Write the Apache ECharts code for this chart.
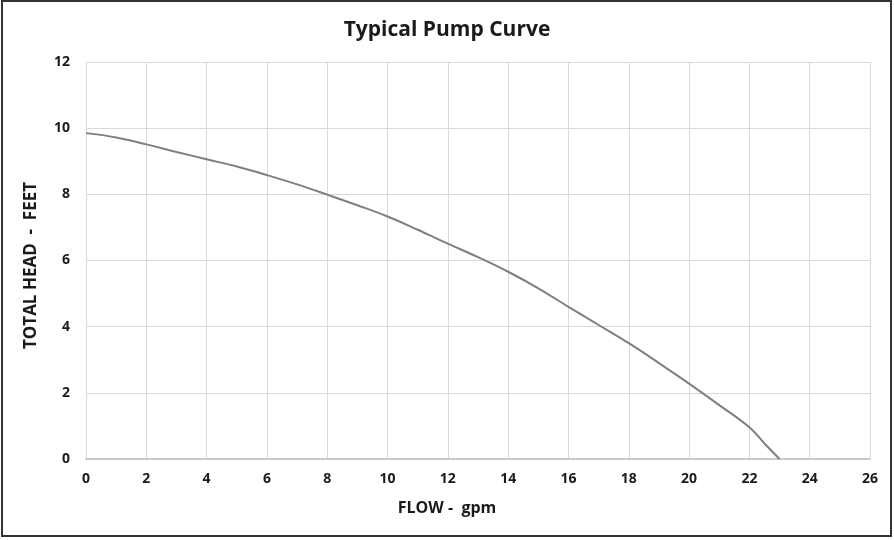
<!DOCTYPE html>
<html>
<head>
<meta charset="utf-8">
<script src="https://cdn.jsdelivr.net/npm/echarts@6/dist/echarts.min.js"></script>
<style>
  html, body { margin: 0; padding: 0; background: #fff; }
  #main { width: 894px; height: 540px; }
</style>
</head>
<body>
<div id="main"></div>
<script>
var flow = [0, 1, 2, 3, 4, 5, 6, 7, 8, 9, 10, 11, 12, 13, 14, 15, 16, 17, 18, 19, 20, 21, 22, 22.5, 23];
var head = [9.85, 9.72, 9.51, 9.28, 9.06, 8.84, 8.58, 8.3, 7.99, 7.67, 7.33, 6.93, 6.51, 6.1, 5.66, 5.16, 4.6, 4.05, 3.5, 2.9, 2.28, 1.63, 0.96, 0.47, 0];

var curve = [];
for (var i = 0; i < flow.length; i++) {
    curve.push([flow[i], head[i]]);
}

var myChart = echarts.init(document.getElementById('main'));
var labelFont = '"Open Sans", Lato, sans-serif';

var option = {
    animation: false,
    backgroundColor: '#fff',
    title: {
        text: 'Typical Pump Curve',
        left: 'center',
        top: 15,
        textStyle: { fontFamily: labelFont, fontSize: 21, fontWeight: 'bold', color: '#1a1a1a' }
    },
    graphic: [{
        type: 'rect',
        shape: { x: 2, y: 1, width: 889, height: 535 },
        style: { fill: 'none', stroke: '#333', lineWidth: 2 },
        silent: true
    }],
    grid: { left: 86, right: 24, top: 62, bottom: 81 },
    xAxis: {
        type: 'value',
        min: 0,
        max: 26,
        interval: 2,
        name: 'FLOW -  gpm',
        nameLocation: 'middle',
        nameGap: 41,
        nameTextStyle: {
            fontFamily: labelFont, fontSize: 16, fontWeight: 'bold', color: '#1a1a1a',
            padding: [0, 62, 0, 0]
        },
        axisLine: { show: true, lineStyle: { color: '#bfbfbf', width: 1.5 } },
        axisTick: { show: false },
        axisLabel: { margin: 13, fontFamily: labelFont, fontSize: 14, fontWeight: 'bold', color: '#1a1a1a' },
        splitLine: { show: true, lineStyle: { color: '#d9d9d9', width: 1 } }
    },
    yAxis: {
        type: 'value',
        min: 0,
        max: 12,
        interval: 2,
        name: 'TOTAL HEAD  -  FEET',
        nameLocation: 'middle',
        nameGap: 46,
        nameTextStyle: {
            fontFamily: labelFont, fontSize: 17, fontWeight: 'bold', color: '#1a1a1a',
            padding: [0, 10, 0, 0]
        },
        axisLine: { show: false },
        axisTick: { show: false },
        axisLabel: { margin: 16, fontFamily: labelFont, fontSize: 14, fontWeight: 'bold', color: '#1a1a1a' },
        splitLine: { show: true, lineStyle: { color: '#d9d9d9', width: 1 } }
    },
    series: [{
        type: 'line',
        data: curve,
        smooth: 0.4,
        showSymbol: false,
        lineStyle: { color: '#7f7f7f', width: 2 }
    }]
};
myChart.setOption(option);
</script>
</body>
</html>
